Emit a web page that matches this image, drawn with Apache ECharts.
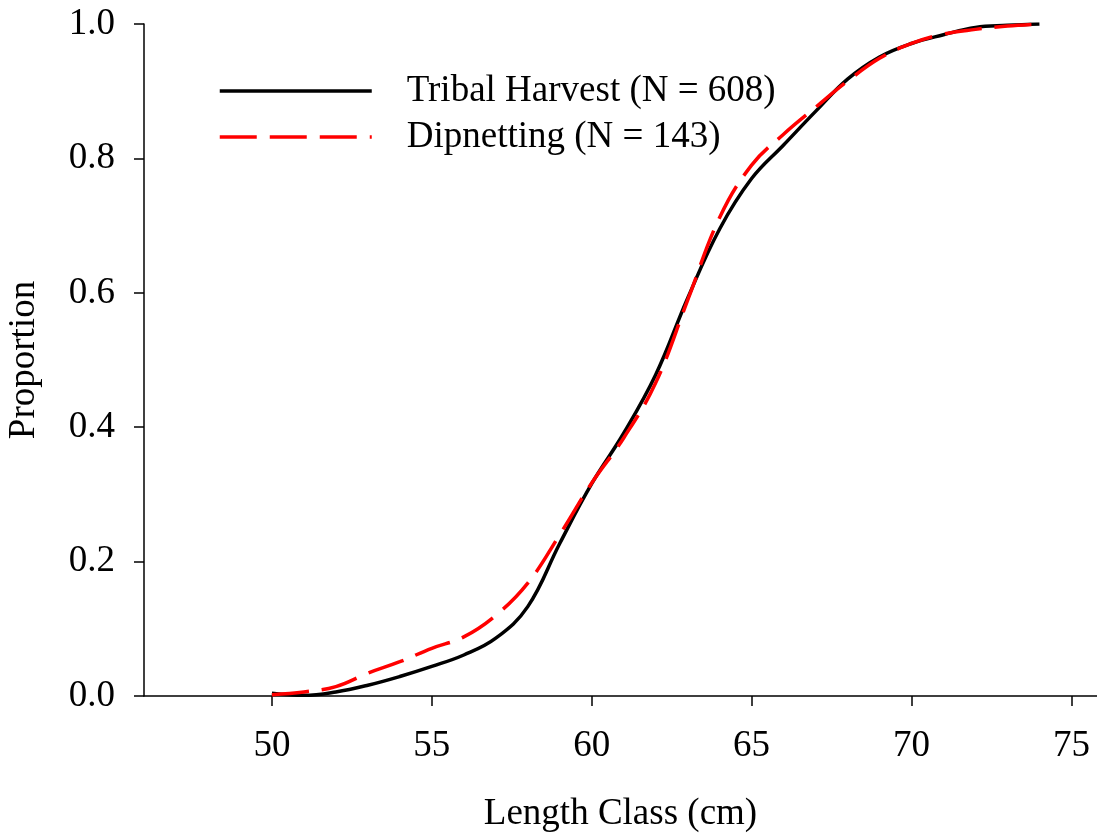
<!DOCTYPE html>
<html>
<head>
<meta charset="utf-8">
<script src="https://cdn.jsdelivr.net/npm/echarts@6/dist/echarts.min.js"></script>
<style>
  html, body { margin: 0; padding: 0; background: #fff; }
  #chart { width: 1097px; height: 833px; }
</style>
</head>
<body>
<div id="chart"></div>
<script>
// length classes (cm)
var lengthClass = [50, 51, 52, 53, 54, 55, 56, 57, 58, 59, 60, 61, 62,
                   63, 64, 65, 66, 67, 68, 69, 70, 71, 72, 73, 74];
// cumulative proportions
var tribal = [0.004, 0.001, 0.006, 0.016, 0.029, 0.044, 0.061, 0.086, 0.133, 0.227, 0.316, 0.391, 0.478,
              0.592, 0.695, 0.770, 0.820, 0.870, 0.918, 0.951, 0.971, 0.984, 0.995, 0.998, 1.0];
var dipnet = [0.002, 0.006, 0.014, 0.034, 0.051, 0.071, 0.088, 0.120, 0.168, 0.240, 0.317, 0.384, 0.466,
              0.589, 0.712, 0.790, 0.836, 0.876, 0.915, 0.949, 0.971, 0.985, 0.992, 0.997, 1.0];
var xTicks = [50, 55, 60, 65, 70, 75];
var seriesNames = ['Tribal Harvest (N = 608)', 'Dipnetting (N = 143)'];

var font = "'Liberation Serif', 'Times New Roman', serif";

function pairs(xs, ys) {
  return xs.map(function (x, i) { return [x, ys[i]]; });
}

var myChart = echarts.init(document.getElementById('chart'));

var option = {
  animation: false,
  textStyle: { fontFamily: font, color: '#000' },
  grid: { left: 144, right: 0, top: 24, bottom: 137, outerBoundsMode: 'none' },
  legend: {
    orient: 'vertical',
    left: 213,
    top: 66,
    itemWidth: 152,
    itemHeight: 20,
    itemGap: 6,
    itemStyle: { opacity: 0 },
    lineStyle: { width: 3.5 },
    textStyle: { fontFamily: font, fontSize: 37, color: '#000', padding: [0, 0, 0, 30], lineHeight: 40 },
    data: seriesNames
  },
  xAxis: {
    type: 'value',
    min: 46,
    max: 75.8,
    name: 'Length Class (cm)',
    nameLocation: 'middle',
    nameGap: 100,
    nameTextStyle: { fontFamily: font, fontSize: 37, color: '#000' },
    axisLine: { lineStyle: { color: '#000', width: 1.5 } },
    axisTick: { show: true, length: 10, lineStyle: { color: '#000', width: 1.5 }, customValues: xTicks },
    axisLabel: { fontFamily: font, fontSize: 37, color: '#000', margin: 32, customValues: xTicks },
    splitLine: { show: false }
  },
  yAxis: {
    type: 'value',
    min: 0,
    max: 1,
    interval: 0.2,
    name: 'Proportion',
    nameLocation: 'middle',
    nameGap: 101,
    nameTextStyle: { fontFamily: font, fontSize: 37, color: '#000' },
    axisLine: { show: true, lineStyle: { color: '#000', width: 1.5 } },
    axisTick: { show: true, length: 10, lineStyle: { color: '#000', width: 1.5 } },
    axisLabel: {
      fontFamily: font, fontSize: 37, color: '#000', margin: 29,
      formatter: function (v) { return v.toFixed(1); }
    },
    splitLine: { show: false }
  },
  series: [
    {
      name: seriesNames[0],
      type: 'line',
      smooth: 0.4,
      symbol: 'none',
      lineStyle: { color: '#000', width: 3.5 },
      itemStyle: { color: '#000' },
      data: pairs(lengthClass, tribal)
    },
    {
      name: seriesNames[1],
      type: 'line',
      smooth: 0.4,
      symbol: 'none',
      lineStyle: { color: '#ff0000', width: 3.5, type: [37, 13] },
      itemStyle: { color: '#ff0000' },
      data: pairs(lengthClass, dipnet)
    }
  ]
};

myChart.setOption(option);
</script>
</body>
</html>
